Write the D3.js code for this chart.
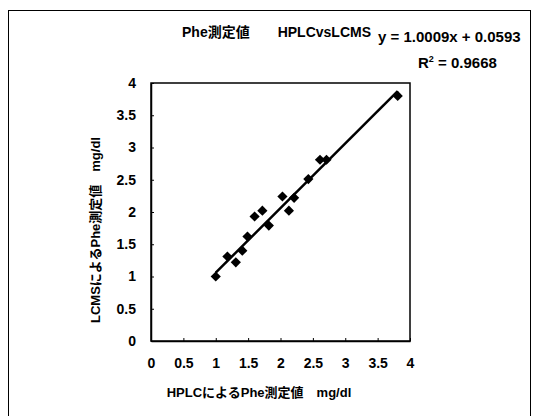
<!DOCTYPE html>
<html>
<head>
<meta charset="utf-8">
<script src="https://cdn.jsdelivr.net/npm/d3@7"></script>
<style>
  body { margin: 0; background: #fff; }
  text { font-family: "Liberation Sans", Arial, "Noto Sans CJK JP", sans-serif; font-weight: bold; fill: #000; }
</style>
</head>
<body>
<div id="chart"></div>
<script>
// HPLC vs LCMS Phe values (mg/dl)
const hplc = [1.0, 1.18, 1.31, 1.41, 1.49, 1.6, 1.72, 1.82, 2.03, 2.13, 2.21, 2.43, 2.61, 2.71, 3.81];
const lcms = [1.0, 1.31, 1.22, 1.40, 1.62, 1.93, 2.02, 1.79, 2.24, 2.02, 2.22, 2.51, 2.81, 2.81, 3.8];
const ticks = [0, 0.5, 1, 1.5, 2, 2.5, 3, 3.5, 4];
const slope = 1.0009;
const intercept = 0.0593;

const width = 539, height = 416;
const margin = { left: 151, right: 129, top: 83, bottom: 75 };

const svg = d3.select("#chart").append("svg")
  .attr("width", width)
  .attr("height", height);

// outer frame
svg.append("rect")
  .attr("x", 8.5).attr("y", 10.5)
  .attr("width", 522).attr("height", 420)
  .attr("fill", "none").attr("stroke", "#000").attr("stroke-width", 1);

const x = d3.scaleLinear().domain([0, 4]).range([margin.left, width - margin.right]);
const y = d3.scaleLinear().domain([0, 4]).range([height - margin.bottom, margin.top]);

// plot area border
svg.append("rect")
  .attr("x", x(0)).attr("y", y(4))
  .attr("width", x(4) - x(0)).attr("height", y(0) - y(4))
  .attr("fill", "none").attr("stroke", "#000").attr("stroke-width", 1.5);

const xAxis = svg.append("g")
  .attr("transform", `translate(0,${y(0)})`)
  .call(d3.axisBottom(x).tickValues(ticks).tickFormat(d3.format("")).tickSizeInner(-3).tickSizeOuter(0).tickPadding(17));
xAxis.select(".domain").attr("stroke-width", 1.5);
xAxis.selectAll("text").style("font-size", "14px");

const yAxis = svg.append("g")
  .attr("transform", `translate(${x(0)},0)`)
  .call(d3.axisLeft(y).tickValues(ticks).tickFormat(d3.format("")).tickSizeInner(-3).tickSizeOuter(0).tickPadding(15));
yAxis.select(".domain").attr("stroke-width", 1.5);
yAxis.selectAll("text").style("font-size", "14px");

// trend line over data range
const x0 = d3.min(hplc), x1 = d3.max(hplc);
svg.append("line")
  .attr("x1", x(x0)).attr("y1", y(slope * x0 + intercept))
  .attr("x2", x(x1)).attr("y2", y(slope * x1 + intercept))
  .attr("stroke", "#000").attr("stroke-width", 2.5);

// points
const marker = d3.symbol(d3.symbolSquare, 52);
svg.selectAll("path.pt")
  .data(hplc)
  .enter()
  .append("path")
  .attr("class", "pt")
  .attr("d", marker)
  .attr("transform", (d, i) => `translate(${x(d)},${y(lcms[i])}) rotate(45)`)
  .attr("fill", "#000");

// title and trend equation
svg.append("text").attr("x", 182).attr("y", 37).style("font-size", "14px").text("Phe測定値");
svg.append("text").attr("x", 371).attr("y", 37).attr("text-anchor", "end").style("font-size", "14px").text("HPLCvsLCMS");

svg.append("text").attr("x", 378).attr("y", 42).style("font-size", "15px")
  .text("y = 1.0009x + 0.0593");
const r2 = svg.append("text").attr("x", 418).attr("y", 68).style("font-size", "15px");
r2.append("tspan").text("R");
r2.append("tspan").attr("dy", -6).style("font-size", "9px").text("2");
r2.append("tspan").attr("dy", 6).text(" = 0.9668");

// axis titles
svg.append("text")
  .attr("x", 259).attr("y", 397)
  .attr("text-anchor", "middle").style("font-size", "13px")
  .text("HPLCによるPhe測定値　mg/dl");

svg.append("text")
  .attr("transform", `translate(100,${(y(0) + y(4)) / 2 + 18}) rotate(-90)`)
  .attr("text-anchor", "middle").style("font-size", "13px")
  .text("LCMSによるPhe測定値　mg/dl");
</script>
</body>
</html>
